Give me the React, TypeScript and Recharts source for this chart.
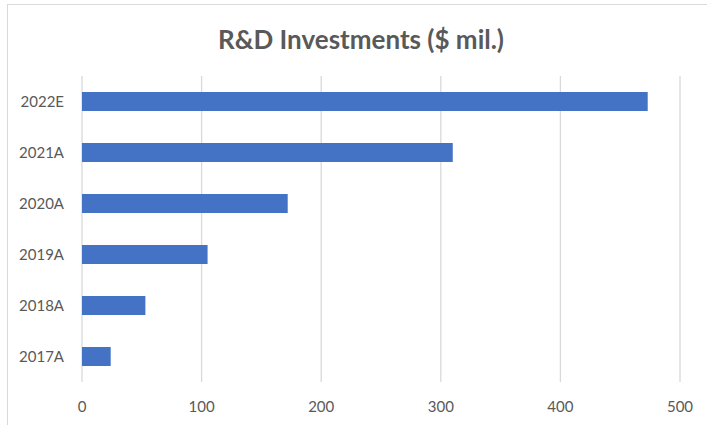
import React from "react";
import { BarChart, Bar, XAxis, YAxis, CartesianGrid } from "recharts";

const categories = ["2017A", "2018A", "2019A", "2020A", "2021A", "2022E"];
const investments = [24, 53, 105, 172, 310, 473];
const xTicks = [0, 100, 200, 300, 400, 500];

const data = categories.map((c, i) => ({ year: c, value: investments[i] }));

const FONT = "Lato, 'Noto Sans', sans-serif";

export default function App() {
  return (
    <div
      style={{
        position: "absolute",
        left: 7,
        top: 4,
        width: 710,
        height: 430,
        border: "1px solid #d9d9d9",
        background: "#fff",
        fontFamily: FONT,
      }}
    >
      <div
        style={{
          position: "absolute",
          left: 0,
          width: 706,
          top: 18,
          textAlign: "center",
          fontSize: 26,
          fontWeight: 700,
          color: "#595959",
          fontFamily: FONT,
        }}
      >
        R&amp;D Investments ($ mil.)
      </div>
      <div style={{ position: "absolute", left: 0, top: 0 }}>
        <BarChart
          width={700}
          height={420}
          data={data}
          layout="vertical"
          margin={{ top: 71, right: 28, bottom: 0, left: 0 }}
        >
          <CartesianGrid horizontal={false} vertical stroke="#d9d9d9" strokeWidth={1.3} />
          <XAxis
            type="number"
            domain={[0, 500]}
            ticks={xTicks}
            axisLine={false}
            tickLine={false}
            tickSize={0}
            tickMargin={19}
            height={43}
            tick={{ fill: "#595959", fontSize: 15, fontFamily: FONT }}
          />
          <YAxis
            type="category"
            dataKey="year"
            reversed
            width={74}
            axisLine={false}
            tickLine={false}
            tickSize={0}
            tickMargin={18}
            tick={{ fill: "#595959", fontSize: 15, fontFamily: FONT }}
          />
          <Bar dataKey="value" fill="#4472C4" barSize={19} isAnimationActive={false} />
        </BarChart>
      </div>
    </div>
  );
}
